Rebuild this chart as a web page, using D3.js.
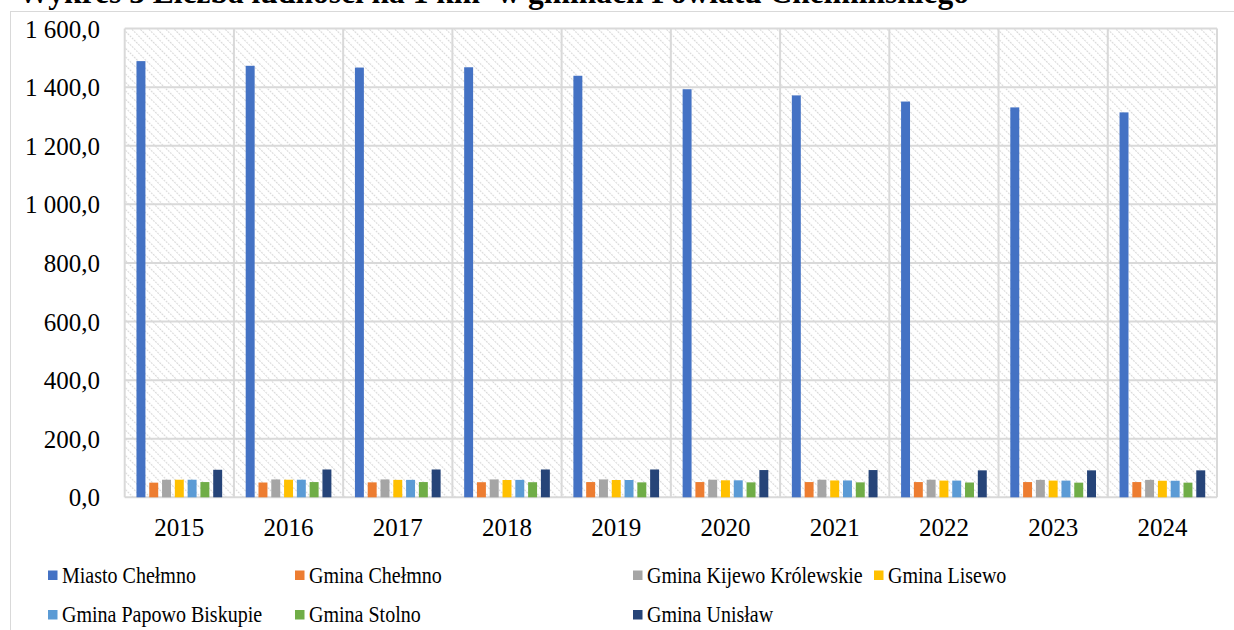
<!DOCTYPE html>
<html>
<head>
<meta charset="utf-8">
<script src="https://cdn.jsdelivr.net/npm/d3@7"></script>
<style>
  html, body { margin: 0; padding: 0; background: #ffffff; }
  svg { display: block; }
  text { font-family: "Liberation Serif", "Times New Roman", serif; fill: #000; }
</style>
</head>
<body>
<svg id="chart" width="1234" height="630"></svg>
<script>
// Population density (persons per km²) in the communes of Chełmno County
const years = ["2015", "2016", "2017", "2018", "2019", "2020", "2021", "2022", "2023", "2024"];
const seriesNames = ["Miasto Chełmno", "Gmina Chełmno", "Gmina Kijewo Królewskie", "Gmina Lisewo",
                     "Gmina Papowo Biskupie", "Gmina Stolno", "Gmina Unisław"];
const miastoChelmno   = [1489, 1473, 1467, 1468, 1439, 1393, 1372, 1351, 1331, 1314];
const gminaChelmno    = [50, 50.5, 51, 51.5, 52, 52, 52, 52, 52, 52];
const gminaKijewo     = [60, 61, 61, 61, 61, 60, 60, 60, 59.5, 59.5];
const gminaLisewo     = [60, 60, 59.5, 59, 59, 58, 57.5, 57, 57, 56.5];
const gminaPapowo     = [60, 60, 59.5, 59.5, 59, 58, 57.5, 57, 57, 56.5];
const gminaStolno     = [52, 52, 52, 51.5, 51, 51, 51, 50.5, 50, 50];
const gminaUnislaw    = [94, 95, 95, 95, 95, 93, 93, 92, 92, 92];
const yTicks = [0, 200, 400, 600, 800, 1000, 1200, 1400, 1600];

const seriesValues = [miastoChelmno, gminaChelmno, gminaKijewo, gminaLisewo,
                      gminaPapowo, gminaStolno, gminaUnislaw];
const colors = ["#4472C4", "#ED7D31", "#A5A5A5", "#FFC000", "#5B9BD5", "#70AD47", "#264478"];

const svg = d3.select("#chart");

// Outer chart frame
svg.append("rect")
  .attr("x", 10.5).attr("y", 11.5).attr("width", 1240).attr("height", 640)
  .attr("fill", "none").attr("stroke", "#d9d9d9").attr("stroke-width", 1);

// Title (sits above the frame)
svg.append("text")
  .attr("x", 18).attr("y", 3)
  .attr("font-size", 31.5).attr("font-weight", "bold")
  .text("Wykres 3 Liczba ludności na 1 km² w gminach Powiatu Chełmińskiego");

const plot = { left: 124.7, right: 1217, top: 28.6, bottom: 497.3 };

const x0 = d3.scaleBand().domain(years).range([plot.left, plot.right]).padding(0);
const x1 = d3.scaleBand().domain(seriesNames).range([0, x0.bandwidth()])
  .paddingInner(0.3).paddingOuter(0.92);
const y = d3.scaleLinear().domain([0, 1600]).range([plot.bottom, plot.top]);

// Hatched plot background
const defs = svg.append("defs");
const pat = defs.append("pattern")
  .attr("id", "hatch").attr("patternUnits", "userSpaceOnUse")
  .attr("width", 6).attr("height", 6)
  .attr("patternTransform", "rotate(-45)");
pat.append("rect").attr("width", 6).attr("height", 6).attr("fill", "#ffffff");
pat.append("line").attr("x1", 0).attr("y1", 0).attr("x2", 0).attr("y2", 6)
  .attr("stroke", "#d9d9d9").attr("stroke-width", 2.2).attr("stroke-dasharray", "2,1");

svg.append("rect")
  .attr("x", plot.left).attr("y", plot.top)
  .attr("width", plot.right - plot.left).attr("height", plot.bottom - plot.top)
  .attr("fill", "url(#hatch)");

// Gridlines
const grid = svg.append("g").attr("stroke", "#d9d9d9").attr("stroke-width", 2);
grid.selectAll("line.h").data(yTicks).join("line")
  .attr("x1", plot.left).attr("x2", plot.right)
  .attr("y1", d => y(d)).attr("y2", d => y(d));
grid.selectAll("line.v").data(years.concat(["end"])).join("line")
  .attr("x1", (d, i) => i < years.length ? x0(d) : plot.right)
  .attr("x2", (d, i) => i < years.length ? x0(d) : plot.right)
  .attr("y1", plot.top).attr("y2", plot.bottom);

// Bars
const groups = svg.append("g").selectAll("g").data(years).join("g")
  .attr("transform", d => `translate(${x0(d)},0)`);
groups.selectAll("rect")
  .data((yr, i) => seriesNames.map((s, k) => ({ s, k, v: seriesValues[k][i] })))
  .join("rect")
  .attr("x", d => x1(d.s))
  .attr("width", x1.bandwidth())
  .attr("y", d => y(d.v))
  .attr("height", d => y(0) - y(d.v))
  .attr("fill", d => colors[d.k]);

// Y axis labels
const fmt = v => {
  const s = v.toFixed(1).replace(".", ",");
  const [ip, fp] = s.split(",");
  return ip.replace(/\B(?=(\d{3})+(?!\d))/g, " ") + "," + fp;
};
const yAxis = d3.axisLeft(y).tickValues(yTicks).tickFormat(fmt).tickSize(0).tickPadding(0);
const yg = svg.append("g").attr("transform", "translate(100,0)").call(yAxis);
yg.select(".domain").remove();
yg.selectAll("text").attr("font-size", 25).attr("font-family", "Liberation Serif, serif")
  .attr("fill", "#000").attr("dy", "0.34em");

// X axis labels
const xAxis = d3.axisBottom(x0).tickSize(0).tickPadding(0);
const xg = svg.append("g").attr("transform", `translate(0,${plot.bottom})`).call(xAxis);
xg.select(".domain").remove();
xg.selectAll("text").attr("font-size", 25).attr("font-family", "Liberation Serif, serif")
  .attr("fill", "#000").attr("dy", 0).attr("y", 39);

// Legend
const legendPos = [[48, 575], [295, 575], [633, 575], [874, 575], [48, 614.5], [295, 614.5], [633, 614.5]];
const legend = svg.append("g").selectAll("g").data(seriesNames).join("g")
  .attr("transform", (d, i) => `translate(${legendPos[i][0]},${legendPos[i][1]})`);
legend.append("rect").attr("x", 0).attr("y", -4.5).attr("width", 9.5).attr("height", 9.5)
  .attr("fill", (d, i) => colors[i]);
legend.append("text").attr("transform", "translate(14,0) scale(0.89,1)")
  .attr("dy", "0.35em").attr("font-size", 22.5).text(d => d);
</script>
</body>
</html>
